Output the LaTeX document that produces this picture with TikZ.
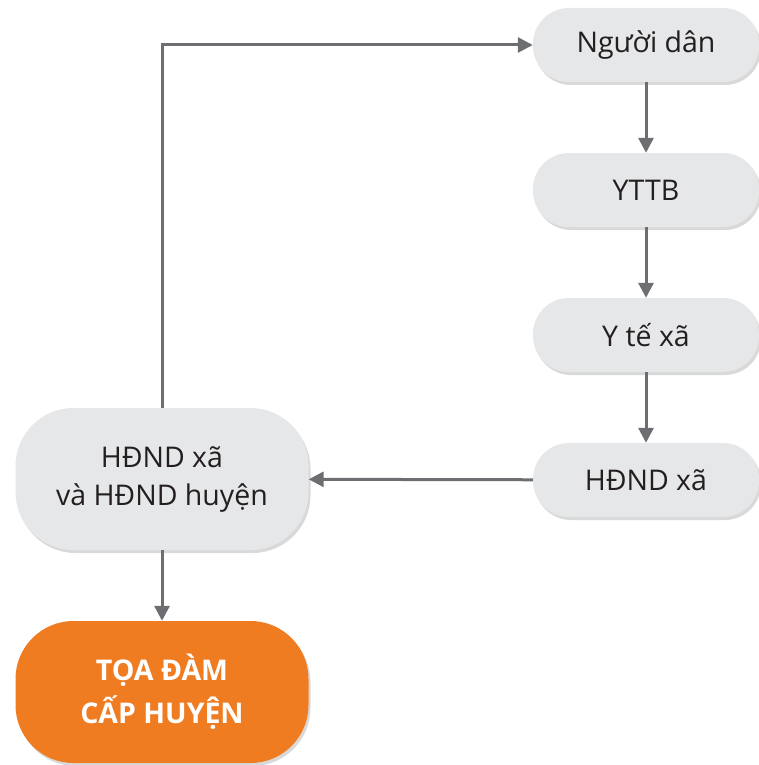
\documentclass[tikz,border=0pt]{standalone}
\usepackage{fontspec}
\setmainfont{Open Sans}
\usetikzlibrary{arrows.meta,shadows}
\definecolor{boxgray}{HTML}{E6E7E8}
\definecolor{linegray}{HTML}{6D6E71}
\definecolor{txt}{HTML}{231F20}
\definecolor{orng}{HTML}{F07C22}
\tikzset{
  smallbox/.style={draw=none, fill=boxgray, rounded corners=36pt, minimum width=226pt, minimum height=74pt,
    text=txt, font=\fontsize{28.5}{34}\selectfont, align=center, inner sep=0pt,
    drop shadow={opacity=0.3, shadow xshift=2pt, shadow yshift=-3pt}},
  bigbox/.style={draw=none, fill=boxgray, rounded corners=58pt, minimum width=293pt, minimum height=142pt,
    text=txt, font=\fontsize{28.5}{38}\selectfont, align=center, inner sep=0pt,
    drop shadow={opacity=0.3, shadow xshift=2pt, shadow yshift=-3pt}},
  orangebox/.style={bigbox, fill=orng, text=white, font=\bfseries\fontsize{28.5}{43}\selectfont},
  conn/.style={draw=linegray, line width=3pt, -{Triangle[length=15pt,width=15pt]}}
}
\begin{document}
\begin{tikzpicture}[x=1pt,y=-1pt]
\useasboundingbox (0,0) rectangle (759,765);
\node[smallbox] (nd) at (646,45) {Người dân};
\node[smallbox] (yt) at (646,190) {YTTB};
\node[smallbox] (yx) at (646,335) {Y tế xã};
\node[smallbox] (hx) at (646,480) {HĐND xã};
\node[bigbox] (hh) at (162,479) {HĐND xã\\và HĐND huyện};
\node[orangebox] (td) at (162,692) {TỌA ĐÀM\\CẤP HUYỆN};
\draw[conn] (nd) -- (yt);
\draw[conn] (yt) -- (yx);
\draw[conn] (yx) -- (hx);
\draw[conn] (hx) -- (hh);
\draw[conn] (hh) -- (td);
\draw[conn] (hh.north) |- (nd.west);
\end{tikzpicture}
\end{document}
